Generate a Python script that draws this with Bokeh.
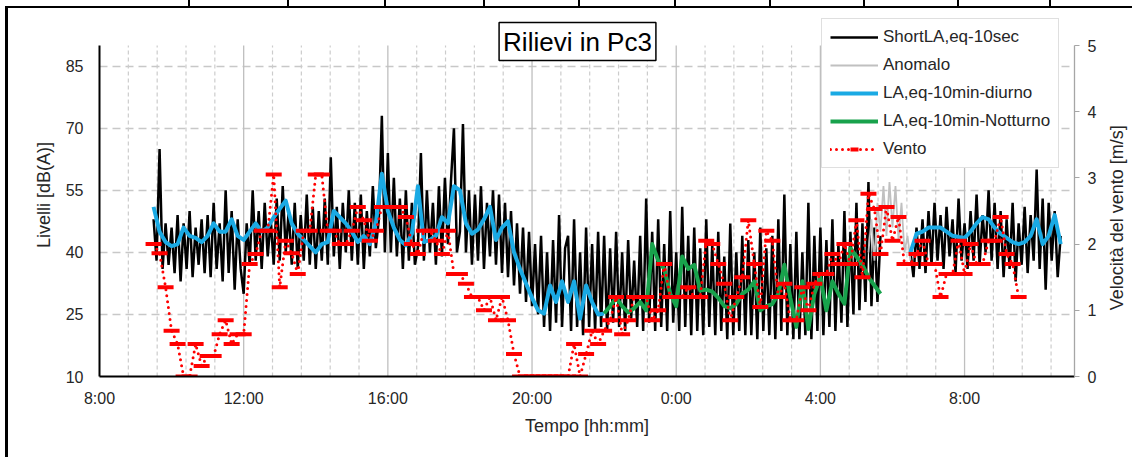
import math
from bokeh.plotting import figure
from bokeh.models import (Range1d, LinearAxis, FixedTicker, Legend, LegendItem,
                          Label, Grid)
from bokeh.embed import file_html
from bokeh.resources import INLINE

FONT = "Liberation Sans"

# ---------------- data ----------------
# x axis: hours since midnight of first day
tick_hours = [8, 12, 16, 20, 24, 28, 32]
tick_labels = ["8:00", "12:00", "16:00", "20:00", "0:00", "4:00", "8:00"]

# ShortLA,eq-10sec (read every 5 min), first segment from 9:30
short1_start = 9.5
short1 = [
    48, 38, 65, 36, 47, 37,
    46, 35, 49, 33, 47, 36, 50, 34, 46, 37, 48, 35,
    49, 34, 52, 36, 47, 33, 55, 35, 50, 31, 48, 36,
    30, 47, 37, 55, 38, 50, 36, 52, 39, 48, 37, 53,
    38, 56, 40, 50, 37, 52, 36, 49, 38, 54, 37, 51,
    36, 50, 38, 53, 37, 63, 39, 51, 36, 52, 40, 55,
    38, 52, 37, 54, 36, 50, 39, 56, 41, 48, 73, 40,
    64, 40, 58, 39, 53, 36, 55, 38, 52, 37, 41, 64,
    38, 55, 40, 52, 37, 56, 39, 58, 42, 57, 70, 40,
    45, 71, 40, 55, 37, 54, 38, 56, 36, 52, 39, 55,
    37, 54, 35, 52, 34, 50, 32, 47, 30, 46, 28, 45,
    27, 42, 25, 44, 22, 40, 21, 43, 23, 49, 22, 41,
    44, 21, 48, 22, 40, 20, 46, 22, 42, 21, 45, 22,
    44, 21, 41, 23, 45, 22, 40, 21, 43, 24, 38, 22,
    44, 21, 53, 23, 45, 21, 48, 22, 42, 21, 50, 23,
    40, 21, 51, 22, 44, 20, 46, 21, 41, 20, 48, 22,
    42, 20, 45, 21, 39, 19, 47, 20, 40, 21, 44, 20,
    43, 20, 40, 19, 46, 21, 41, 20, 44, 19, 48, 21,
    54, 20, 42, 19, 45, 19, 40, 20, 52, 19, 44, 21,
    46, 20, 43, 22, 48, 21, 42, 23, 50, 22, 45, 25,
    52, 26, 47, 28, 57, 27, 46, 28, 44,
]
# Anomalo (5 min) from 5:20
anom_start = 29 + 20 / 60
anom = [40, 48, 38, 52, 45, 56, 44, 57, 46, 56, 43, 52, 40, 44, 38]
# ShortLA second segment from 6:30
short2_start = 30.5
short2 = [
    40, 34, 46, 36, 48, 35,
    50, 37, 52, 38, 49, 36, 51, 39, 48, 35, 53, 38,
    47, 36, 50, 38, 54, 37, 49, 40, 55, 38, 52, 36,
    50, 34, 48, 36, 52, 33, 47, 37, 51, 35, 49, 38,
    60, 36, 53, 31, 52, 38, 50, 34, 44,
]
# LA,eq-10min diurno / notturno (10 min)
diurno1_start = 9.5
diurno1 = [
    51, 45, 42.5,
    41.5, 42, 46, 44, 43.5, 42.5,
    44, 47, 45, 45, 48, 44,
    43, 45, 47, 45, 46, 48.5,
    50.5, 52.5, 47, 44.5, 43, 41.5,
    40, 42, 42.5, 50, 48.5, 47,
    45, 42.5, 44, 42, 47, 59,
    50, 46, 43, 41.7, 44.5, 56,
    42.5, 43, 44, 48.5, 47, 56,
    55, 47, 44.5, 45.5, 48, 51,
    43, 46, 47.5, 40, 36, 32.5,
    29, 26, 25.2, 32, 28, 33,
    28, 33, 24, 32, 28, 25,
    25.2,
]
notturno_start = 22.0
notturno = [
    25.2, 27, 29, 27, 25.5, 26.5,
    28, 26, 42, 38, 36, 30,
    27, 39, 36, 37, 30.8, 31,
    30.5, 29, 27, 26.5, 27.5, 30,
    31, 33, 26, 27, 27.5, 30,
    37, 29, 22, 33, 21.5, 30,
    34, 26, 33, 30, 27.6, 41,
    39, 37, 34, 32, 30,
]
diurno2_start = 30.5
diurno2 = [
    40, 44.5, 45,
    46, 46, 46, 45, 44, 43.7,
    43.5, 45, 47, 48.5, 48, 46,
    44.5, 43.5, 42.5, 42, 42.5, 44,
    48, 42, 44, 49, 42,
]
# Vento [m/s] (10 min) from 9:30
vento_start = 9.5
vento = [
    2.0, 1.86, 1.35,
    0.69, 0.49, 0.0, 0.0, 0.49, 0.16,
    0.31, 0.31, 0.64, 0.85, 0.49, 0.64,
    0.64, 1.70, 1.85, 2.2, 2.2, 3.05,
    1.35, 2.05, 1.86, 1.55, 2.2, 2.2,
    3.05, 3.05, 2.2, 2.2, 2.0, 2.0,
    2.2, 2.56, 2.36, 2.05, 2.2, 2.56,
    2.56, 2.56, 2.56, 2.41, 2.0, 1.85,
    2.2, 2.2, 2.05, 1.85, 2.2, 1.55,
    1.55, 1.40, 1.2, 1.2, 1.0, 1.2,
    0.85, 1.2, 0.85, 0.34, 0.0, 0.0,
    0.0, 0.0, 0.0, 0.0, 0.0, 0.0,
    0.0, 0.49, 0.0, 0.34, 0.69, 0.49,
    0.69, 0.85, 1.2, 0.64, 0.85, 1.2,
    1.2, 1.2, 0.85, 1.0, 1.70, 1.2,
    1.2, 1.2, 1.35, 1.2, 1.2, 2.05,
    2.0, 1.70, 1.4, 0.85, 1.2, 1.5,
    2.36, 1.70, 1.05, 2.2, 2.05, 1.2,
    1.4, 0.85, 0.85, 1.35, 1.0, 1.4,
    1.55, 1.55, 1.85, 1.70, 2.0, 1.70,
    2.36, 1.5, 2.76, 2.53, 1.85, 2.56,
    2.05, 2.41, 1.70, 1.70, 1.85, 2.05,
    1.70, 1.70, 1.2, 1.55, 1.55, 2.05,
    1.55, 2.0, 1.70, 1.70, 2.05, 2.05,
    2.41, 1.85, 1.70, 1.2,
]

STEP5 = 5 / 60
STEP10 = 10 / 60


def times(start, step, n):
    return [start + i * step for i in range(n)]


# ---------------- figure ----------------
# frame: 10 dB at bottom, 90 dB 331 px higher; frame extends to the top edge
Y_TOP = 90 + 37 / (331 / 80)
W_TOP = (Y_TOP - 10) / 16

p = figure(width=1132, height=449, output_backend="svg", toolbar_location=None,
           x_range=Range1d(8, 35.05), y_range=Range1d(10, Y_TOP),
           x_axis_type=None, y_axis_type=None,
           min_border_left=91, min_border_right=64,
           min_border_top=0, min_border_bottom=81)
p.extra_y_ranges = {"wind": Range1d(0, W_TOP)}
p.outline_line_color = None
p.background_fill_color = "white"
p.border_fill_color = "white"

minor = [8 + 0.8 * k for k in range(1, 34) if k % 5 != 0]
major = tick_hours[1:]
xticker = FixedTicker(ticks=tick_hours, minor_ticks=minor)
yticker = FixedTicker(ticks=[10, 25, 40, 55, 70, 85])
wticker = FixedTicker(ticks=[0, 1, 2, 3, 4, 5])

# vertical grid lines (only between 10 and 90 dB)
p.segment(x0=minor, y0=[10] * len(minor), x1=minor, y1=[90] * len(minor),
          line_color="#cccccc", line_width=1.2, line_dash="4 3")
p.segment(x0=major, y0=[10] * len(major), x1=major, y1=[90] * len(major),
          line_color="#bfbfbf", line_width=1.3)
p.add_layout(Grid(dimension=1, ticker=yticker, grid_line_color="#c8c8c8",
                  grid_line_dash="8 5", grid_line_width=1.3))

LBL = "#262626"


def style_axis(ax):
    ax.major_label_text_font = FONT
    ax.major_label_text_font_size = "16px"
    ax.major_label_text_color = LBL
    ax.axis_label_text_font = FONT
    ax.axis_label_text_font_size = "18px"
    ax.axis_label_text_font_style = "normal"
    ax.axis_label_text_color = LBL
    ax.minor_tick_line_color = None


xaxis = LinearAxis(ticker=xticker, axis_label="Tempo [hh:mm]",
                   major_label_overrides={float(h): t for h, t in zip(tick_hours, tick_labels)})
style_axis(xaxis)
xaxis.axis_line_color = "black"
xaxis.axis_line_width = 2
xaxis.major_tick_line_color = None
xaxis.major_tick_out = 0
xaxis.major_label_standoff = 9
xaxis.axis_label_standoff = 6
p.add_layout(xaxis, "below")

yaxis = LinearAxis(ticker=yticker, axis_label="Livelli  [dB(A)]", bounds=(10, 90))
style_axis(yaxis)
yaxis.axis_line_color = "black"
yaxis.axis_line_width = 2
yaxis.major_tick_line_color = None
yaxis.major_tick_out = 0
yaxis.major_label_standoff = 16
yaxis.axis_label_standoff = 9
p.add_layout(yaxis, "left")

# secondary (wind) axis: line, ticks and tick labels
waxis = LinearAxis(y_range_name="wind", ticker=wticker, bounds=(0, 5))
style_axis(waxis)
waxis.axis_line_color = "#a6a6a6"
waxis.axis_line_width = 1.3
waxis.major_tick_line_color = "#a6a6a6"
waxis.major_tick_out = 5
waxis.major_tick_in = 0
waxis.major_label_standoff = 8
p.add_layout(waxis, "right")

# title of the secondary axis, reading bottom-to-top like the left one:
# written as the single label of an outer, line-less axis, starting at 1 m/s
WTITLE = "Velocità del vento  [m/s]"
wtitle = LinearAxis(y_range_name="wind", ticker=FixedTicker(ticks=[1.0]),
                    major_label_overrides={1.0: WTITLE})
style_axis(wtitle)
wtitle.major_label_text_font_size = "18px"
wtitle.axis_line_color = None
wtitle.major_tick_line_color = None
wtitle.major_tick_out = 0
wtitle.major_tick_in = 0
wtitle.major_label_standoff = 18
wtitle.major_label_orientation = math.pi / 2
p.add_layout(wtitle, "right")

# ---------------- series ----------------
r_black = p.line(times(short1_start, STEP5, len(short1)), short1,
                 line_color="black", line_width=2.5)
p.line(times(short2_start, STEP5, len(short2)), short2,
       line_color="black", line_width=2.5)
r_gray = p.line(times(anom_start, STEP5, len(anom)), anom,
                line_color="#c0c0c0", line_width=1.8)
BLUE = "#1AAAE4"
GREEN = "#18A24C"
r_blue = p.line(times(diurno1_start, STEP10, len(diurno1)), diurno1,
                line_color=BLUE, line_width=4, line_join="round")
p.line(times(diurno2_start, STEP10, len(diurno2)), diurno2,
       line_color=BLUE, line_width=4, line_join="round")
r_green = p.line(times(notturno_start, STEP10, len(notturno)), notturno,
                 line_color=GREEN, line_width=4, line_join="round")
xw = times(vento_start, STEP10, len(vento))
r_wl = p.line(xw, vento, y_range_name="wind", line_color="#ff0000",
              line_width=3, line_dash="0 6", line_cap="round")
r_wm = p.scatter(xw, vento, y_range_name="wind", marker="dash", size=16,
                 line_color="#ff0000", line_width=4)

legend = Legend(items=[
    LegendItem(label="ShortLA,eq-10sec", renderers=[r_black]),
    LegendItem(label="Anomalo", renderers=[r_gray]),
    LegendItem(label="LA,eq-10min-diurno", renderers=[r_blue]),
    LegendItem(label="LA,eq-10min-Notturno", renderers=[r_green]),
    LegendItem(label="Vento", renderers=[r_wl, r_wm]),
], location=(722, 208))
legend.label_text_font = FONT
legend.label_text_font_size = "17px"
legend.label_text_color = LBL
legend.glyph_width = 48
legend.glyph_height = 20
legend.label_height = 20
legend.label_standoff = 5
legend.spacing = 8
legend.padding = 8
legend.margin = 0
legend.border_line_color = "#bfbfbf"
legend.border_line_width = 1.3
legend.background_fill_color = "white"
legend.background_fill_alpha = 1.0
p.add_layout(legend)

title = Label(x=478, y=335, x_units="screen", y_units="screen",
              text="Rilievi in Pc3", text_align="center", text_baseline="middle",
              text_font=FONT, text_font_size="26px", text_color="black",
              border_line_color="black", border_line_width=1.5,
              background_fill_color="white", padding=4)
p.add_layout(title)

# the chart sits in a table cell: top rule, left rule and the column rules above
cols = [188, 287, 384, 483, 578, 674, 769, 863, 957, 1049]
grads = ",".join("linear-gradient(#000,#000) %dpx 0/2px 7px no-repeat" % c for c in cols)
CELL_CSS = ("<style>html{overflow:hidden;background:" + grads + ",#fff;}"
            "body{margin:6px 0 0 5px !important;border-top:2px solid #000;"
            "border-left:3px solid #000;height:calc(100% - 6px) !important;"
            "box-sizing:border-box;background:#fff;}</style></head>")

open("out.html", "w").write(file_html(p, INLINE).replace("</head>", CELL_CSS, 1))
